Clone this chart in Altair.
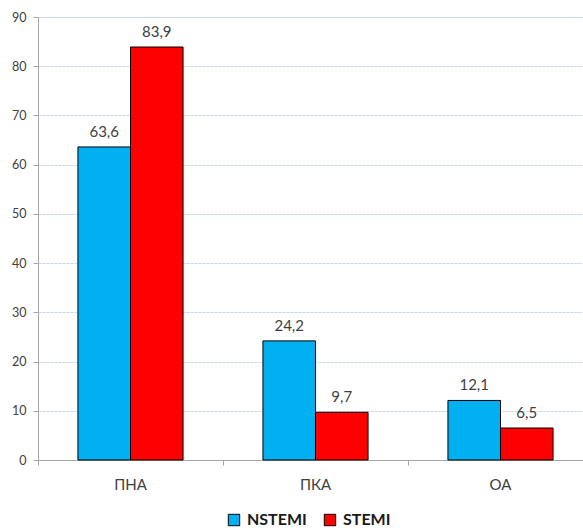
import altair as alt
import pandas as pd

categories = ["ПНА", "ПКА", "ОА"]
series = ["NSTEMI", "STEMI"]
nstemi = [63.6, 24.2, 12.1]
stemi = [83.9, 9.7, 6.5]
colors = ["#00B0F0", "#FF0000"]
y_ticks = [0, 10, 20, 30, 40, 50, 60, 70, 80, 90]

rows = []
for i, c in enumerate(categories):
    rows.append({"cat": c, "series": "NSTEMI", "value": nstemi[i]})
    rows.append({"cat": c, "series": "STEMI", "value": stemi[i]})
df = pd.DataFrame(rows)

FONT = "Lato"
xscale = alt.Scale(domain=categories, paddingInner=0, paddingOuter=0, range=[0, 555])
xo = alt.XOffset("series:N", sort=series,
                 scale=alt.Scale(domain=series, paddingInner=0, paddingOuter=0.76))
yscale = alt.Scale(domain=[0, 90], nice=False)

base = alt.Chart(df)

bars = base.mark_bar(stroke="#000000", strokeWidth=1).encode(
    x=alt.X("cat:N", sort=categories, scale=xscale,
            axis=alt.Axis(title=None, orient="bottom", ticks=True, tickSize=5,
                          tickColor="#A6A6A6", bandPosition=0, labelAngle=0,
                          labelFontSize=15, labelFont=FONT, labelColor="#404040",
                          labelPadding=12, domainColor="#A6A6A6", domainWidth=1)),
    xOffset=xo,
    y=alt.Y("value:Q", scale=yscale,
            axis=alt.Axis(title=None, values=y_ticks, tickSize=5, tickColor="#A6A6A6",
                          domainColor="#A6A6A6", labelFontSize=12.5, labelFont=FONT,
                          labelColor="#404040", labelPadding=7,
                          gridColor="#C6D5EF", gridDash=[3, 1], gridWidth=1)),
    color=alt.Color("series:N", sort=series,
                    scale=alt.Scale(domain=series, range=colors),
                    legend=alt.Legend(title=None, orient="none", direction="horizontal",
                                      legendX=188, legendY=495,
                                      symbolType="square", symbolSize=130,
                                      symbolStrokeColor="#000000", symbolStrokeWidth=1,
                                      symbolOpacity=1,
                                      labelFontSize=16, labelFont=FONT, labelFontWeight="bold",
                                      labelColor="#1a1a1a", columnPadding=15, labelOffset=5)),
)

labels = base.transform_calculate(
    label="replace(format(datum.value, '.1f'), '.', ',')"
).mark_text(dy=-10, baseline="alphabetic", fontSize=15, font=FONT, color="#404040").encode(
    x=alt.X("cat:N", sort=categories, scale=xscale),
    xOffset=xo,
    y=alt.Y("value:Q", scale=yscale),
    text="label:N",
)

chart = alt.layer(bars, labels).properties(
    width=545, height=443,
    autosize=alt.AutoSizeParams(type="none"),
    padding={"left": 38, "top": 17, "right": 0, "bottom": 72},
).configure_view(stroke=None).configure(background="white")

chart.save("out.html", embed_options={"renderer": "svg", "actions": False})
